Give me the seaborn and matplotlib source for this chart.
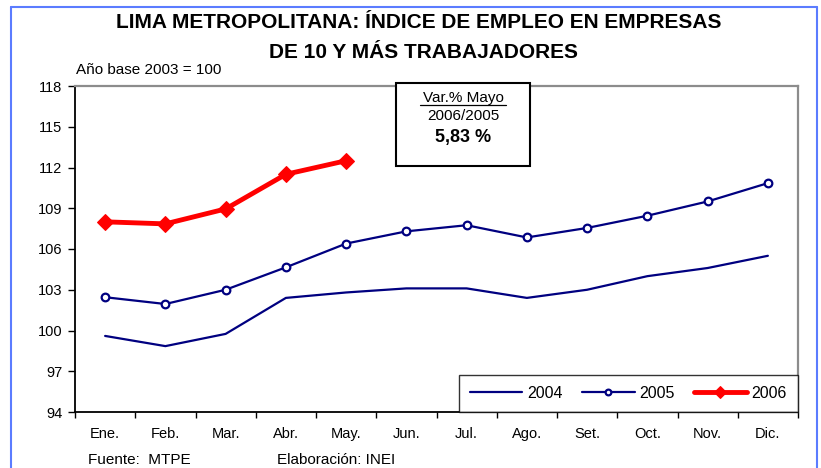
import matplotlib
matplotlib.use("Agg")
import matplotlib.pyplot as plt
from matplotlib.lines import Line2D
from matplotlib.patches import Rectangle
from matplotlib.ticker import FixedLocator
import seaborn as sns
import pandas as pd

months = ["Ene.", "Feb.", "Mar.", "Abr.", "May.", "Jun.",
          "Jul.", "Ago.", "Set.", "Oct.", "Nov.", "Dic."]
idx_2004 = [99.6, 98.85, 99.75, 102.4, 102.8, 103.1,
            103.1, 102.4, 103.0, 104.0, 104.6, 105.5]
idx_2005 = [102.45, 101.95, 103.0, 104.65, 106.4, 107.3,
            107.75, 106.85, 107.55, 108.45, 109.5, 110.85]
idx_2006 = [108.0, 107.85, 108.95, 111.5, 112.5]
yticks = [94, 97, 100, 103, 106, 109, 112, 115, 118]

sns.set_theme(style="white")
plt.rcParams["font.family"] = ["Liberation Sans", "DejaVu Sans"]
plt.rcParams["text.color"] = "black"
plt.rcParams["xtick.color"] = "black"
plt.rcParams["ytick.color"] = "black"

df = pd.concat([
    pd.DataFrame({"mes": months, "indice": idx_2004, "año": "2004"}),
    pd.DataFrame({"mes": months, "indice": idx_2005, "año": "2005"}),
    pd.DataFrame({"mes": months[:len(idx_2006)], "indice": idx_2006, "año": "2006"}),
])

fig = plt.figure(figsize=(8.21, 4.68), dpi=100)
ax = fig.add_axes([75 / 821, 1 - 412 / 468, (798 - 75) / 821, (412 - 86) / 468])

navy = "#000080"
styles = {
    "2004": dict(color=navy, lw=1.6, marker=None),
    "2005": dict(color=navy, lw=1.6, marker="o", ms=5.5, mfc="white",
                 mec=navy, mew=1.6),
    "2006": dict(color="#ff0000", lw=3.5, marker="D", ms=8, mfc="#ff0000",
                 mec="#ff0000"),
}
for year, st in styles.items():
    sub = df[df["año"] == year]
    sns.lineplot(data=sub, x="mes", y="indice", ax=ax, label=year,
                 sort=False, **st)

ax.set_xlim(-0.5, 11.5)
ax.set_ylim(94, 118)
ax.set_yticks(yticks)
ax.set_yticklabels([str(v) for v in yticks], fontsize=10.5)
ax.set_xticks(range(len(months)))
ax.set_xticklabels(months, fontsize=10.5)
ax.xaxis.set_minor_locator(FixedLocator([i - 0.5 for i in range(len(months) + 1)]))
ax.tick_params(axis="x", which="major", length=0, pad=11, labelcolor="black")
ax.tick_params(axis="x", which="minor", bottom=True, length=4, width=1, color="black")
ax.tick_params(axis="y", left=True, length=5, width=1, color="black", pad=4,
               labelcolor="black")
ax.set_xlabel("")
ax.set_ylabel("")
for side in ("left", "bottom"):
    ax.spines[side].set_color("black")
    ax.spines[side].set_linewidth(1.3)
for side in ("top", "right"):
    ax.spines[side].set_color("#8c8c8c")
    ax.spines[side].set_linewidth(1.6)
ax.grid(False)

leg = ax.legend(loc="lower right", ncol=3, frameon=True, fancybox=False,
                fontsize=11.5, borderaxespad=0, handlelength=3.3,
                columnspacing=1.2, handletextpad=0.3, borderpad=0.7,
                markerscale=0.75, labelcolor="black")
leg.get_frame().set_edgecolor("black")
leg.get_frame().set_linewidth(1.0)

# variation box
fig.patches.append(Rectangle((396 / 821, 1 - 166 / 468), 134 / 821, 83 / 468,
                             transform=fig.transFigure, fill=True, fc="white",
                             ec="black", lw=1.5, zorder=5))
fig.text(463 / 821, 1 - 98 / 468, "Var.% Mayo", ha="center", va="center",
         fontsize=11, zorder=6)
fig.add_artist(Line2D([420 / 821, 506 / 821], [1 - 105 / 468, 1 - 105 / 468],
                      color="black", lw=0.9, zorder=6))
fig.text(463 / 821, 1 - 116 / 468, "2006/2005", ha="center", va="center",
         fontsize=11, zorder=6)
fig.text(463 / 821, 1 - 137 / 468, "5,83 %", ha="center", va="center",
         fontsize=13, fontweight="bold", zorder=6)

# titles and notes
fig.text(419 / 821, 1 - 22 / 468, "LIMA METROPOLITANA: ÍNDICE DE EMPLEO EN EMPRESAS",
         ha="center", va="center", fontsize=15, fontweight="bold")
fig.text(423 / 821, 1 - 53 / 468, "DE 10 Y MÁS TRABAJADORES",
         ha="center", va="center", fontsize=15, fontweight="bold")
fig.text(76 / 821, 1 - 70 / 468, "Año base 2003 = 100", ha="left", va="center",
         fontsize=11)
fig.text(88 / 821, 1 - 460 / 468, "Fuente:  MTPE", ha="left", va="center",
         fontsize=11)
fig.text(277 / 821, 1 - 460 / 468, "Elaboración: INEI", ha="left", va="center",
         fontsize=11)

# outer frame
frame_c = "#5b7cff"
fig.add_artist(Line2D([11 / 821, 11 / 821], [0, 1 - 7 / 468], color=frame_c, lw=1.5))
fig.add_artist(Line2D([11 / 821, 817 / 821], [1 - 7 / 468, 1 - 7 / 468], color=frame_c, lw=1.5))
fig.add_artist(Line2D([817 / 821, 817 / 821], [0, 1 - 7 / 468], color=frame_c, lw=1.5))

fig.savefig("out.png", dpi=100)
